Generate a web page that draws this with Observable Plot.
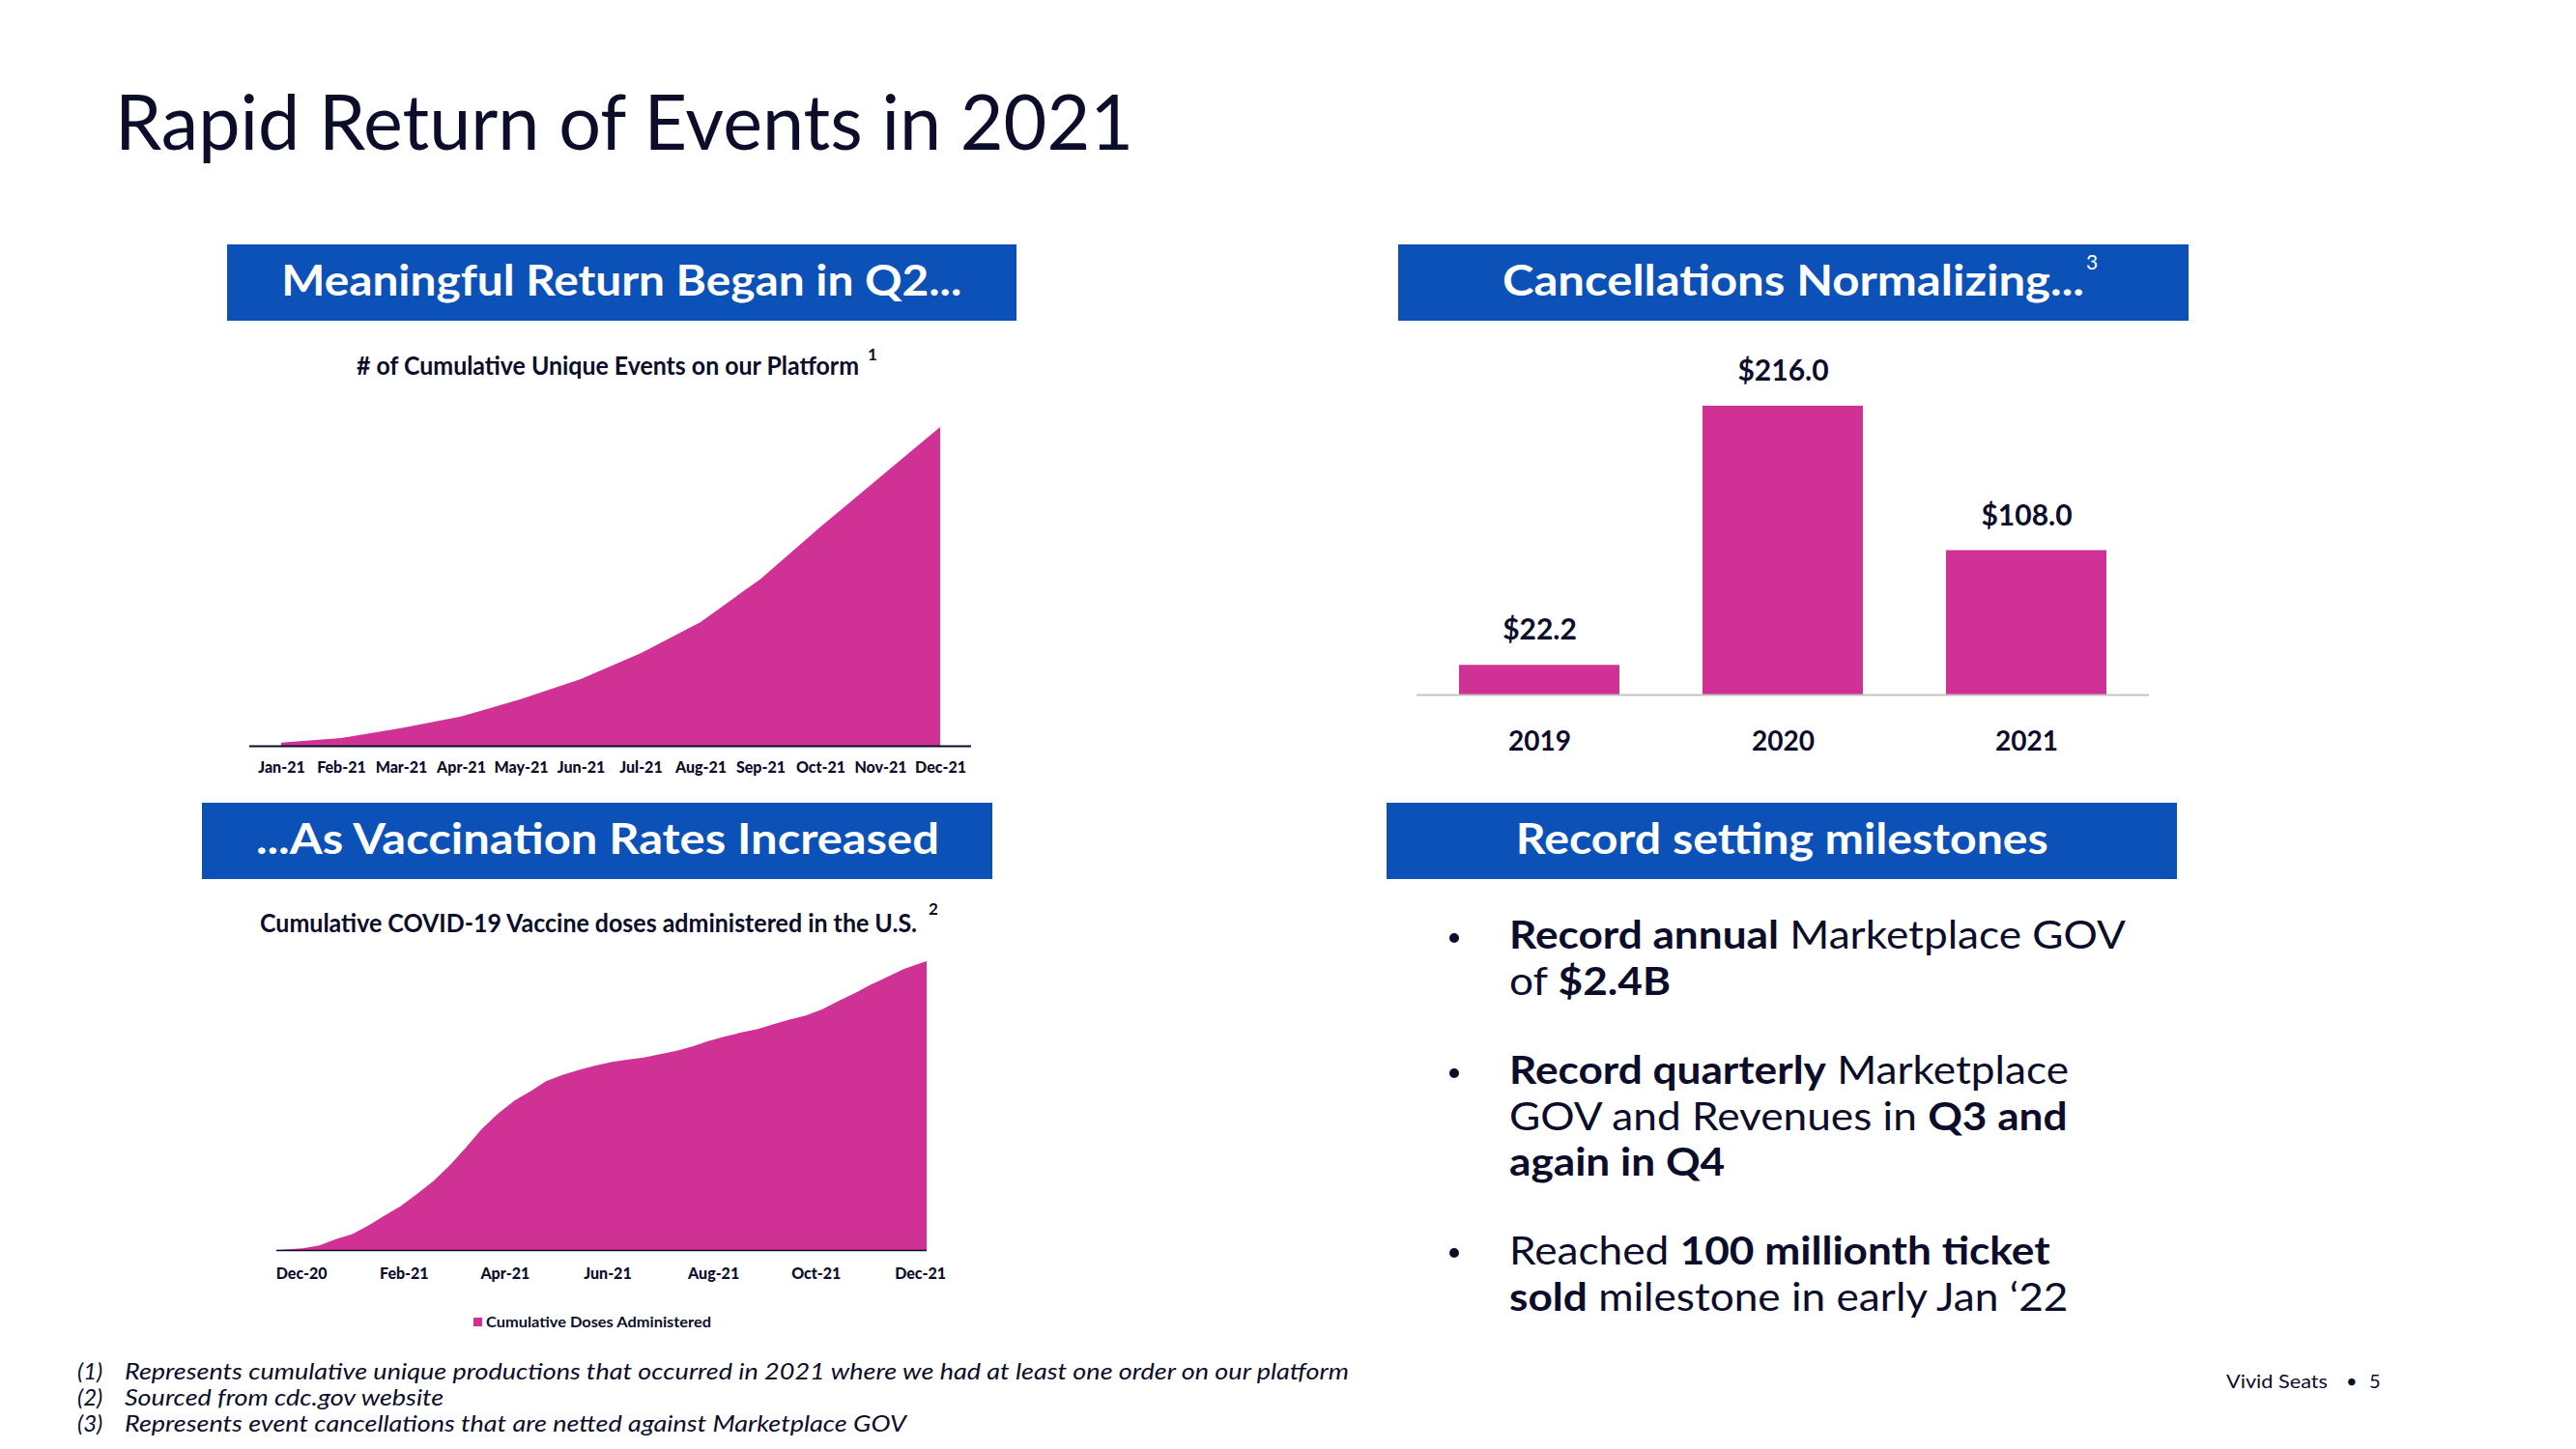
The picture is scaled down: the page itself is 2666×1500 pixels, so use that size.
<!DOCTYPE html>
<html>
<head>
<meta charset="utf-8">
<script src="https://cdn.jsdelivr.net/npm/d3@7"></script>
<script src="https://cdn.jsdelivr.net/npm/@observablehq/plot@0.6"></script>
<style>
  html, body { margin: 0; padding: 0; background: #fff; }
  body { width: 2666px; height: 1500px; position: relative; overflow: hidden; font-family: Lato, "Open Sans", sans-serif; color: #0c0d2b; }
  .t { position: absolute; white-space: nowrap; line-height: 1; }
  .box { position: absolute; background: #0b51b7; display: flex; align-items: center; justify-content: center; color: #fff; font-weight: 700; font-size: 44px; white-space: nowrap; box-sizing: border-box; padding-bottom: 8px; }
  .box span { line-height: 1; }
  .sup { position: absolute; line-height: 1; font-weight: 700; }
  .fitL { transform-origin: 0 50%; }
  .bul { position: absolute; left: 1562px; white-space: nowrap; font-size: 40px; line-height: 47.5px; transform-origin: 0 0; }
  .bul div { width: max-content; }
  .bul b { font-weight: 700; }
  .bul span { font-weight: 400; }
  .dot { position: absolute; width: 10px; height: 10px; border-radius: 50%; background: #0c0d2b; left: 1500px; }
  .fn { position: absolute; font-style: italic; font-size: 24px; line-height: 1; white-space: nowrap; }
  .chart { position: absolute; }
</style>
</head>
<body>

<div class="t fitL" data-w="1054" style="left:119px; top:84px; font-size:80px; font-weight:400;">Rapid Return of Events in 2021</div>

<div class="box" style="left:235px; top:253px; width:817px; height:79px;"><span data-w="704">Meaningful Return Began in Q2...</span></div>
<div class="t fitL" data-w="520" style="left:369px; top:365px; font-size:26px; font-weight:700;">&#35; of Cumulative Unique Events on our Platform</div>
<div class="sup" style="left:898px; top:358px; font-size:17px;">1</div>
<div id="chart1" class="chart" style="left:238px; top:420px; width:787px; height:392px;"></div>

<div class="box" style="left:209px; top:831px; width:818px; height:79px;"><span data-w="707">...As Vaccination Rates Increased</span></div>
<div class="t fitL" data-w="680" style="left:269px; top:942px; font-size:26px; font-weight:700;">Cumulative COVID-19 Vaccine doses administered in the U.S.</div>
<div class="sup" style="left:961px; top:932px; font-size:17px;">2</div>
<div id="chart2" class="chart" style="left:266px; top:975px; width:713px; height:359px;"></div>
<div style="position:absolute; left:490px; top:1364px; width:9px; height:9px; background:#cf3194;"></div>
<div class="t fitL" data-w="233" style="left:503px; top:1361px; font-size:15px; font-weight:700;">Cumulative Doses Administered</div>

<div class="box" style="left:1447px; top:253px; width:818px; height:79px;"><span data-w="602">Cancellations Normalizing...</span></div>
<div class="sup" style="left:2159px; top:260px; font-size:21px; color:#fff; font-weight:400;">3</div>
<div id="chart3" class="chart" style="left:1446px; top:340px; width:798px; height:449px;"></div>

<div class="box" style="left:1435px; top:831px; width:818px; height:79px;"><span data-w="551">Record setting milestones</span></div>

<div class="dot" style="top:966px;"></div>
<div class="bul" style="top:944px;">
  <div id="bl1"><b>Record annual</b><span> Marketplace GOV</span></div>
  <div><span>of </span><b>$2.4B</b></div>
</div>
<div class="dot" style="top:1106px;"></div>
<div class="bul" style="top:1084px;">
  <div><b>Record quarterly</b><span> Marketplace</span></div>
  <div><span>GOV and Revenues in </span><b>Q3 and</b></div>
  <div><b>again in Q4</b></div>
</div>
<div class="dot" style="top:1292px;"></div>
<div class="bul" style="top:1271px;">
  <div><span>Reached </span><b>100 millionth ticket</b></div>
  <div><b>sold</b><span> milestone in early Jan ‘22</span></div>
</div>

<div class="fn" style="left:80px; top:1407px;">(1)</div>
<div class="fn fitL" id="fn1" data-w="1267" style="left:129px; top:1407px;">Represents cumulative unique productions that occurred in 2021 where we had at least one order on our platform</div>
<div class="fn" style="left:80px; top:1434px;">(2)</div>
<div class="fn fitL fnx" style="left:129px; top:1434px;">Sourced from cdc.gov website</div>
<div class="fn" style="left:80px; top:1461px;">(3)</div>
<div class="fn fitL fnx" style="left:129px; top:1461px;">Represents event cancellations that are netted against Marketplace GOV</div>

<div class="t fitL" data-w="105" style="left:2304px; top:1419px; font-size:20px;">Vivid Seats</div>
<div class="t" style="left:2428px; top:1419px; font-size:20px;">•</div>
<div class="t" style="left:2452px; top:1419px; font-size:20px;">5</div>

<script>
// ---- Data ----
const months = ["Jan-21","Feb-21","Mar-21","Apr-21","May-21","Jun-21","Jul-21","Aug-21","Sep-21","Oct-21","Nov-21","Dec-21"];
// cumulative unique events, indexed to December = 100 (no axis values shown)
const eventsIndex = [1.0, 2.4, 5.5, 9.2, 14.6, 20.9, 29.0, 38.8, 52.3, 68.6, 84.3, 100];

// cumulative vaccine doses (millions) by day since first dose
const doseDays = [0,16,26,36,46,56,65,75,85,95,105,114,124,134,144,154,163,173,183,193,203,212,222,232,242,252,261,271,281,291,301,310,320,330,340,350,359,369,379,389,393];
const doseMillions = [0,3,8,19,28,44,60,77,99,122,150,179,213,241,264,281,298,309,318,326,332,336,340,346,352,360,369,377,384,390,399,407,414,425,440,454,468,482,496,506,510];
const doseTickDays = [15, 77, 138, 200, 264, 326, 389];
const doseTickLabels = ["Dec-20","Feb-21","Apr-21","Jun-21","Aug-21","Oct-21","Dec-21"];

const years = ["2019","2020","2021"];
const cancellations = [22.2, 216.0, 108.0];

// ---- Styles ----
const magenta = "#cf3194";
const navy = "#0c0d2b";

const events = months.map((m, i) => ({month: m, value: eventsIndex[i]}));
const doses = doseDays.map((d, i) => ({day: d, value: doseMillions[i]}));
const bars = years.map((y, i) => ({year: y, value: cancellations[i]}));

const chart1 = Plot.plot({
  width: 787, height: 392,
  marginLeft: 20, marginRight: 20, marginTop: 22, marginBottom: 40,
  style: `font-family: Lato, sans-serif; font-weight: 900; font-size: 16px; color: ${navy}; background: transparent; overflow: visible;`,
  x: {type: "point", domain: months, padding: 0.5, tickSize: 0, tickPadding: 16, label: null},
  y: {domain: [0, 100], axis: null},
  marks: [
    Plot.areaY(events, {x: "month", y: "value", fill: magenta}),
    Plot.ruleY([0], {stroke: navy, strokeWidth: 2})
  ]
});
document.getElementById("chart1").appendChild(chart1);

const chart2 = Plot.plot({
  width: 713, height: 359,
  marginLeft: 20, marginRight: 20, marginTop: 20, marginBottom: 40,
  style: `font-family: Lato, sans-serif; font-weight: 900; font-size: 16px; color: ${navy}; background: transparent; overflow: visible;`,
  x: {domain: [0, 393], ticks: doseTickDays, tickFormat: d => doseTickLabels[doseTickDays.indexOf(d)], tickSize: 0, tickPadding: 18, label: null},
  y: {domain: [0, 510], axis: null},
  marks: [
    Plot.areaY(doses, {x: "day", y: "value", fill: magenta}),
    Plot.ruleY([0], {stroke: navy, strokeWidth: 1.5})
  ]
});
document.getElementById("chart2").appendChild(chart2);

const chart3 = Plot.plot({
  width: 798, height: 449,
  marginLeft: 20, marginRight: 20, marginTop: 80, marginBottom: 70,
  style: `font-family: Lato, sans-serif; font-weight: 700; font-size: 28px; color: ${navy}; background: transparent; overflow: visible;`,
  x: {domain: years, paddingInner: 0.34, paddingOuter: 0.17, tickSize: 0, tickPadding: 38, label: null},
  y: {domain: [0, 216], axis: null},
  marks: [
    Plot.barY(bars, {x: "year", y: "value", fill: magenta}),
    Plot.ruleY([0], {stroke: "#c4c4c4", strokeWidth: 2}),
    Plot.text(bars, {x: "year", y: "value", text: d => "$" + d.value.toFixed(1), dy: -36, fontSize: 30, fontWeight: 700, fill: navy})
  ]
});
document.getElementById("chart3").appendChild(chart3);

// ---- Fit text widths to the reference's (horizontally condensed) type ----
function fitAll() {
  document.querySelectorAll("[data-w]").forEach(el => {
    el.style.transform = "none";
    const w = el.getBoundingClientRect().width;
    if (w > 0) el.style.transform = `scaleX(${(+el.dataset.w) / w})`;
  });
  const l1 = document.getElementById("bl1");
  document.querySelectorAll(".bul").forEach(b => b.style.transform = "none");
  const s = 638 / l1.getBoundingClientRect().width;
  document.querySelectorAll(".bul").forEach(b => b.style.transform = `scaleX(${s})`);
  const f1 = document.getElementById("fn1");
  const sf = f1.style.transform;
  document.querySelectorAll(".fnx").forEach(el => el.style.transform = sf);
}
fitAll();
if (document.fonts && document.fonts.ready) document.fonts.ready.then(fitAll);
</script>
</body>
</html>
